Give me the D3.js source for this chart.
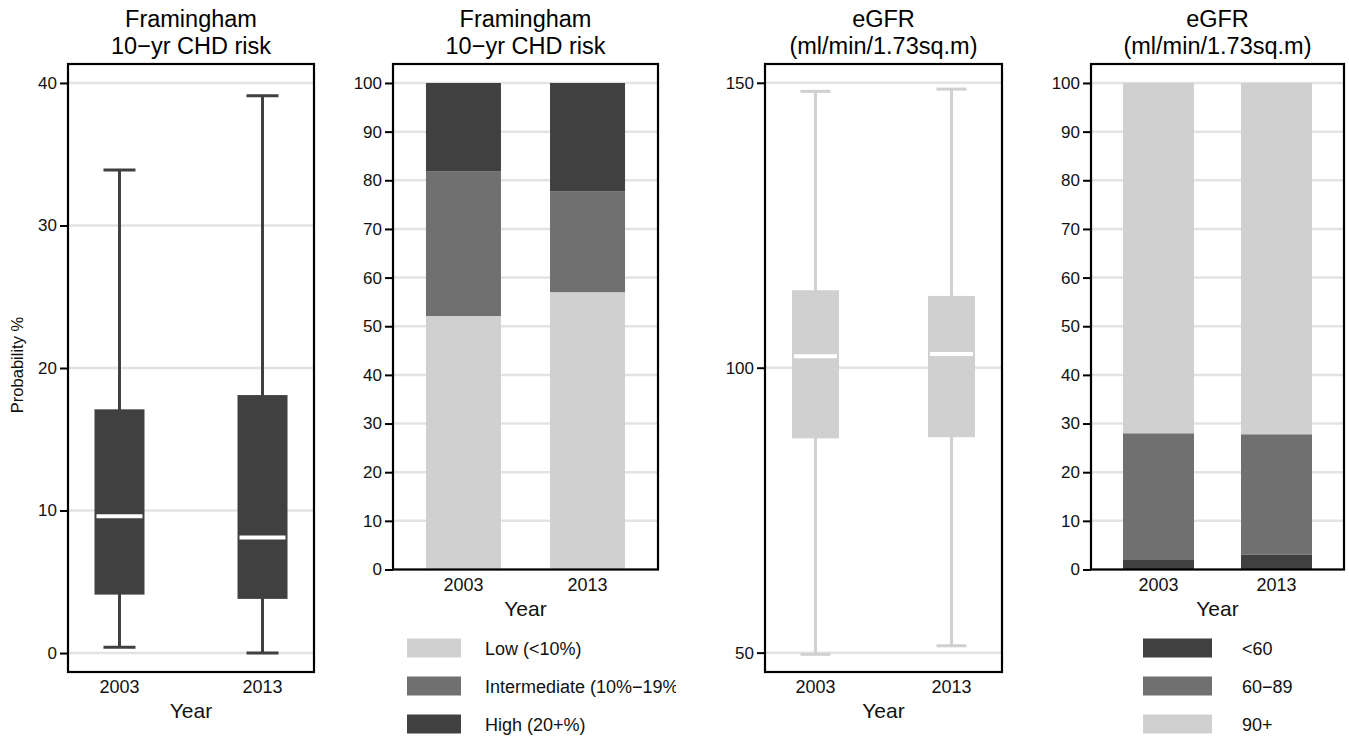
<!DOCTYPE html>
<html>
<head>
<meta charset="utf-8">
<script src="https://cdn.jsdelivr.net/npm/d3@7"></script>
<style>
  body { margin: 0; background: #fff; }
  svg { font-family: "Liberation Sans", Arial, sans-serif; }
  .grid line { stroke: #e3e3e3; stroke-width: 2.5; }
  .frame { fill: none; stroke: #000; stroke-width: 2.2; }
  .y-axis path { display: none; }
  .y-axis line { stroke: #000; stroke-width: 2; }
  .y-axis text { font-size: 17px; fill: #111; }
  .x-label { font-size: 18px; fill: #111; }
  .axis-title { font-size: 21px; fill: #111; }
  .chart-title { font-size: 23.5px; fill: #000; }
  .legend-text { font-size: 18px; fill: #111; }
</style>
</head>
<body>
<svg id="chart" width="1349" height="738"></svg>
<script>
const YEARS = ['2003', '2013'];

// Framingham 10-yr CHD risk, box summaries (%)
const chdMin = [0.4, 0.0];
const chdQ1 = [4.1, 3.8];
const chdMedian = [9.6, 8.1];
const chdQ3 = [17.1, 18.1];
const chdMax = [33.9, 39.1];
const chdTicks = [0, 10, 20, 30, 40];

// Framingham risk categories (% of patients)
const riskCategories = ['Low (<10%)', 'Intermediate (10%\u221219%)', 'High (20+%)'];
const riskLow = [52.1, 57.0];
const riskIntermediate = [29.7, 20.7];
const riskHigh = [18.2, 22.3];

// eGFR box summaries
const egfrMin = [49.7, 51.2];
const egfrQ1 = [87.6, 87.8];
const egfrMedian = [102.0, 102.4];
const egfrQ3 = [113.6, 112.6];
const egfrMax = [148.5, 148.9];
const egfrTicks = [50, 100, 150];

// eGFR categories (% of patients)
const egfrCategories = ['<60', '60\u221289', '90+'];
const egfrBelow60 = [2.1, 3.1];
const egfr60to89 = [25.9, 24.7];
const egfr90plus = [72.0, 72.2];

const pctTicks = d3.range(0, 101, 10);

const DARK = '#404040', MID = '#707070', LIGHT = '#d0d0d0';

var svg = d3.select('#chart');

function drawFrame(g, p, yScale, ticks, title) {
    g.append('g')
    .attr('class', 'grid')
    .selectAll('line')
    .data(ticks)
    .enter()
    .append('line')
    .attr('x1', p.left)
    .attr('x2', p.right)
    .attr('y1', d => yScale(d))
    .attr('y2', d => yScale(d));

    var yAxis = d3.axisLeft(yScale)
    .tickValues(ticks)
    .tickSizeInner(8)
    .tickSizeOuter(0)
    .tickPadding(3);

    g.append('g')
    .attr('class', 'y-axis')
    .attr('transform', 'translate(' + p.left + ',0)')
    .call(yAxis);

    var cx = (p.left + p.right) / 2;
    g.selectAll('.chart-title')
    .data(title)
    .enter()
    .append('text')
    .attr('class', 'chart-title')
    .attr('x', cx)
    .attr('y', (d, i) => 26.5 + i * 27)
    .attr('text-anchor', 'middle')
    .text(d => d);
}

function drawXLabels(g, p, xScale) {
    g.selectAll('.x-label')
    .data(YEARS)
    .enter()
    .append('text')
    .attr('class', 'x-label')
    .attr('x', d => xScale(d))
    .attr('y', p.bottom + 21)
    .attr('text-anchor', 'middle')
    .text(d => d);

    g.append('text')
    .attr('class', 'axis-title')
    .attr('x', (p.left + p.right) / 2)
    .attr('y', p.bottom + 46)
    .attr('text-anchor', 'middle')
    .text('Year');

    g.append('rect')
    .attr('class', 'frame')
    .attr('x', p.left)
    .attr('y', p.top)
    .attr('width', p.right - p.left)
    .attr('height', p.bottom - p.top);
}

function generateBoxPanel(p, stats, domain, ticks, title, color, boxWidth, capWidth) {
    var g = svg.append('g');
    var yScale = d3.scaleLinear().domain(domain).range([p.bottom, p.top]);
    var xScale = d3.scalePoint().domain(YEARS).range([p.left, p.right]).padding(p.pad);

    drawFrame(g, p, yScale, ticks, title);

    var rows = YEARS.map((y, i) => ({
        year: y, min: stats.min[i], q1: stats.q1[i], med: stats.med[i], q3: stats.q3[i], max: stats.max[i]
    }));

    var box = g.selectAll('.box')
    .data(rows)
    .enter()
    .append('g')
    .attr('class', 'box');

    box.append('line')
    .attr('x1', d => xScale(d.year))
    .attr('x2', d => xScale(d.year))
    .attr('y1', d => yScale(d.min))
    .attr('y2', d => yScale(d.max))
    .attr('stroke', color)
    .attr('stroke-width', 3);

    ['min', 'max'].forEach(function (k) {
        box.append('line')
        .attr('x1', d => xScale(d.year) - capWidth / 2)
        .attr('x2', d => xScale(d.year) + capWidth / 2)
        .attr('y1', d => yScale(d[k]))
        .attr('y2', d => yScale(d[k]))
        .attr('stroke', color)
        .attr('stroke-width', 3);
    });

    box.append('rect')
    .attr('x', d => xScale(d.year) - boxWidth / 2)
    .attr('width', boxWidth)
    .attr('y', d => yScale(d.q3))
    .attr('height', d => yScale(d.q1) - yScale(d.q3))
    .attr('fill', color);

    box.append('line')
    .attr('x1', d => xScale(d.year) - boxWidth / 2 + 2)
    .attr('x2', d => xScale(d.year) + boxWidth / 2 - 2)
    .attr('y1', d => yScale(d.med))
    .attr('y2', d => yScale(d.med))
    .attr('stroke', '#fff')
    .attr('stroke-width', 4);

    drawXLabels(g, p, xScale);
    return g;
}

function generateStackPanel(p, series, keys, colors, title, barWidth, legend) {
    var g = svg.append('g');
    var yScale = d3.scaleLinear().domain([0, 103.9]).range([p.bottom, p.top]);
    var xScale = d3.scalePoint().domain(YEARS).range([p.left, p.right]).padding(p.pad);

    drawFrame(g, p, yScale, pctTicks, title);

    var table = YEARS.map((y, i) => {
        var row = {year: y};
        keys.forEach((k, j) => { row[k] = series[j][i]; });
        return row;
    });
    var stacked = d3.stack().keys(keys)(table);

    g.selectAll('.layer')
    .data(stacked)
    .enter()
    .append('g')
    .attr('class', 'layer')
    .attr('fill', (d, i) => colors[i])
    .selectAll('rect')
    .data(d => d)
    .enter()
    .append('rect')
    .attr('x', d => xScale(d.data.year) - barWidth / 2)
    .attr('width', barWidth)
    .attr('y', d => yScale(d[1]))
    .attr('height', d => yScale(d[0]) - yScale(d[1]));

    drawXLabels(g, p, xScale);

    // legend, clipped on the right like the original
    var clipId = 'clip' + Math.round(p.left);
    svg.append('clipPath')
    .attr('id', clipId)
    .append('rect')
    .attr('x', legend.x - 5)
    .attr('y', 620)
    .attr('width', legend.clip - legend.x + 5)
    .attr('height', 118);

    var lg = g.append('g').attr('clip-path', 'url(#' + clipId + ')');
    var items = legend.order.map(i => ({label: keys[i], color: colors[i]}));
    var row = lg.selectAll('.legend-row')
    .data(items)
    .enter()
    .append('g')
    .attr('class', 'legend-row')
    .attr('transform', (d, i) => 'translate(0,' + (648 + i * 38) + ')');

    row.append('rect')
    .attr('x', legend.x)
    .attr('y', -9.5)
    .attr('width', legend.w)
    .attr('height', 19)
    .attr('fill', d => d.color);

    row.append('text')
    .attr('class', 'legend-text')
    .attr('x', legend.textX)
    .attr('y', 6.5)
    .text(d => d.label);
}

function main() {
    var p1 = {left: 68, right: 314, top: 64, bottom: 672, pad: 0.36};
    generateBoxPanel(p1,
        {min: chdMin, q1: chdQ1, med: chdMedian, q3: chdQ3, max: chdMax},
        [-1.33, 41.33], chdTicks, ['Framingham', '10\u2212yr CHD risk'], DARK, 50, 32);

    svg.append('text')
    .attr('transform', 'translate(23,365) rotate(-90)')
    .attr('text-anchor', 'middle')
    .style('font-size', '16.5px')
    .attr('fill', '#111')
    .text('Probability %');

    var p2 = {left: 393, right: 658, top: 64, bottom: 569.5, pad: 0.568};
    generateStackPanel(p2, [riskLow, riskIntermediate, riskHigh], riskCategories,
        [LIGHT, MID, DARK], ['Framingham', '10\u2212yr CHD risk'], 75,
        {x: 407, w: 54, textX: 485, clip: 676, order: [0, 1, 2]});

    var p3 = {left: 765, right: 1002, top: 64, bottom: 672, pad: 0.371};
    generateBoxPanel(p3,
        {min: egfrMin, q1: egfrQ1, med: egfrMedian, q3: egfrQ3, max: egfrMax},
        [46.6, 153.3], egfrTicks, ['eGFR', '(ml/min/1.73sq.m)'], LIGHT, 47, 30);

    var p4 = {left: 1091, right: 1344, top: 64, bottom: 569.5, pad: 0.572};
    generateStackPanel(p4, [egfrBelow60, egfr60to89, egfr90plus], egfrCategories,
        [DARK, MID, LIGHT], ['eGFR', '(ml/min/1.73sq.m)'], 71,
        {x: 1143, w: 69, textX: 1242, clip: 1349, order: [0, 1, 2]});
}

main();
</script>
</body>
</html>
